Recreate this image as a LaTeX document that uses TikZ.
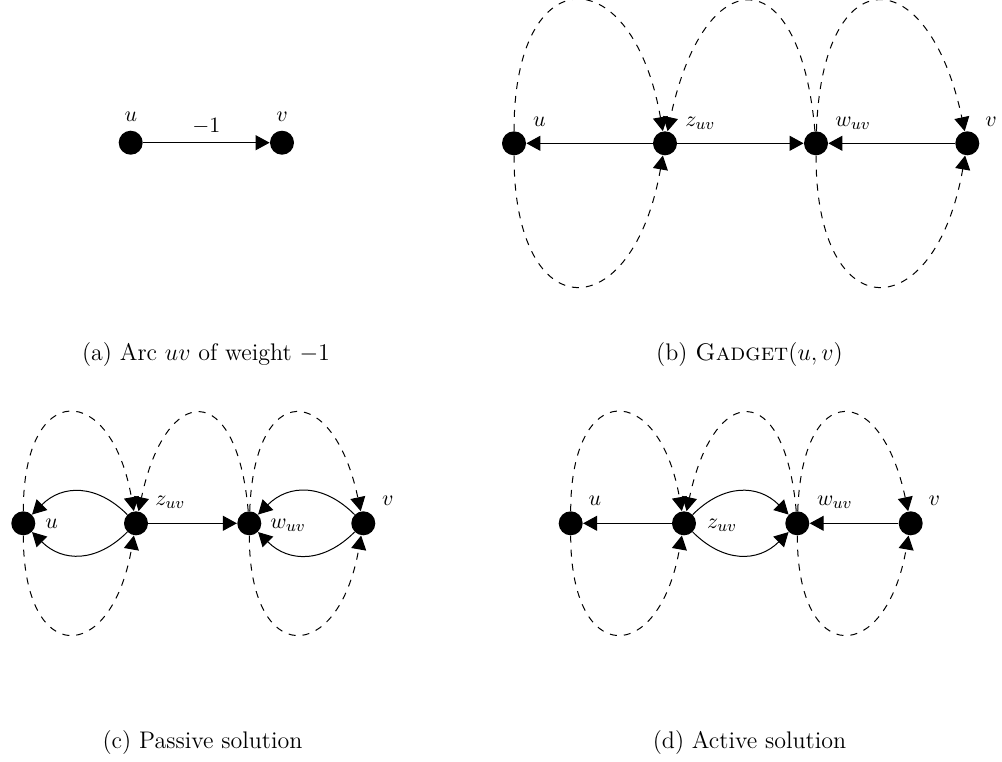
\documentclass[tikz,border=0pt]{standalone}
\usetikzlibrary{arrows.meta}
\begin{document}
\begin{tikzpicture}[x=0.5pt,y=0.5pt,
  vtx/.style={circle,fill=black,minimum size=12pt,inner sep=0pt},
  labfont/.style={font=\fontsize{10.95}{13}\selectfont},
  lab/.style={labfont,inner sep=0pt,anchor=base west},
  captxt/.style={font=\fontsize{12}{14}\selectfont,inner sep=0pt,anchor=base},
  arr/.style={-{Triangle[length=7pt,width=7.5pt]},line width=0.5pt},
  dsh/.style={arr,dash pattern=on 3.5pt off 3.5pt},
  bigloop/.style={distance=87.5pt},
  smallloop/.style={distance=66pt},
  solidarc/.style={looseness=1.16}
]
\useasboundingbox (0,0) rectangle (1002,-761);

% ---------- (a) ----------
\node[vtx] (a-u) at (130.7,-142.7) {};
\node[vtx] (a-v) at (282,-142.7) {};
\node[labfont,inner sep=0pt,anchor=base] (a-lu) at (131,-121.7) {$u$};
\node[labfont,inner sep=0pt,anchor=base] (a-lv) at (282,-121.7) {$v$};
\draw[arr] (a-u) -- node[midway,labfont,anchor=base,inner sep=0pt,yshift=5pt] (a-lw) {$-1$} (a-v);
\node[captxt] (a-cap) at (206,-360) {(a) Arc $uv$ of weight $-1$};

% ---------- (b) ----------
\node[vtx] (b-u) at (514,-143.3) {};
\node[vtx] (b-z) at (665,-143.3) {};
\node[vtx] (b-w) at (816,-143.3) {};
\node[vtx] (b-v) at (967.3,-143.3) {};
\node[lab] (b-lu) at (532.7,-126.5) {$u$};
\node[lab] (b-lz) at (685,-126.5) {$z_{uv}$};
\node[lab] (b-lw) at (835,-126.5) {$w_{uv}$};
\node[lab] (b-lv) at (985,-126.5) {$v$};
\draw[arr] (b-z) -- (b-u);
\draw[arr] (b-z) -- (b-w);
\draw[arr] (b-v) -- (b-w);
\draw[dsh] (b-u) to[out=90,in=100,bigloop] (b-z);
\draw[dsh] (b-w) to[out=95,in=78,bigloop] (b-z);
\draw[dsh] (b-w) to[out=88,in=102,bigloop] (b-v);
\draw[dsh] (b-u) to[out=-90,in=-100,bigloop] (b-z);
\draw[dsh] (b-w) to[out=-90,in=-100,bigloop] (b-v);
\node[captxt] (b-cap) at (749.5,-360) {(b) \textsc{Gadget}$(u,v)$};

% ---------- (c) ----------
\node[vtx] (c-u) at (23.3,-523.3) {};
\node[vtx] (c-z) at (136,-523.3) {};
\node[vtx] (c-w) at (249.3,-523.3) {};
\node[vtx] (c-v) at (363.3,-523.3) {};
\node[lab] (c-lu) at (45,-528) {$u$};
\node[lab] (c-lz) at (155,-505) {$z_{uv}$};
\node[lab] (c-lw) at (270,-528) {$w_{uv}$};
\node[lab] (c-lv) at (381.7,-505) {$v$};
\draw[arr] (c-z) to[out=135,in=45,solidarc] (c-u);
\draw[arr] (c-z) to[out=-135,in=-45,solidarc] (c-u);
\draw[arr] (c-z) -- (c-w);
\draw[arr] (c-v) to[out=135,in=45,solidarc] (c-w);
\draw[arr] (c-v) to[out=-135,in=-45,solidarc] (c-w);
\draw[dsh] (c-u) to[out=90,in=100,smallloop] (c-z);
\draw[dsh] (c-w) to[out=95,in=78,smallloop] (c-z);
\draw[dsh] (c-w) to[out=88,in=102,smallloop] (c-v);
\draw[dsh] (c-u) to[out=-90,in=-100,smallloop] (c-z);
\draw[dsh] (c-w) to[out=-90,in=-100,smallloop] (c-v);
\node[captxt] (c-cap) at (202.5,-748) {(c) Passive solution};

% ---------- (d) ----------
\node[vtx] (d-u) at (570.7,-523.3) {};
\node[vtx] (d-z) at (684,-523.3) {};
\node[vtx] (d-w) at (797.3,-523.3) {};
\node[vtx] (d-v) at (910.7,-523.3) {};
\node[lab] (d-lu) at (588.3,-505) {$u$};
\node[lab] (d-lz) at (706.7,-528.3) {$z_{uv}$};
\node[lab] (d-lw) at (816.7,-505) {$w_{uv}$};
\node[lab] (d-lv) at (928.3,-505) {$v$};
\draw[arr] (d-z) -- (d-u);
\draw[arr] (d-z) to[out=45,in=135,solidarc] (d-w);
\draw[arr] (d-z) to[out=-45,in=-135,solidarc] (d-w);
\draw[arr] (d-v) -- (d-w);
\draw[dsh] (d-u) to[out=90,in=100,smallloop] (d-z);
\draw[dsh] (d-w) to[out=95,in=78,smallloop] (d-z);
\draw[dsh] (d-w) to[out=88,in=102,smallloop] (d-v);
\draw[dsh] (d-u) to[out=-90,in=-100,smallloop] (d-z);
\draw[dsh] (d-w) to[out=-90,in=-100,smallloop] (d-v);
\node[captxt] (d-cap) at (749.5,-748) {(d) Active solution};
\end{tikzpicture}
\end{document}
